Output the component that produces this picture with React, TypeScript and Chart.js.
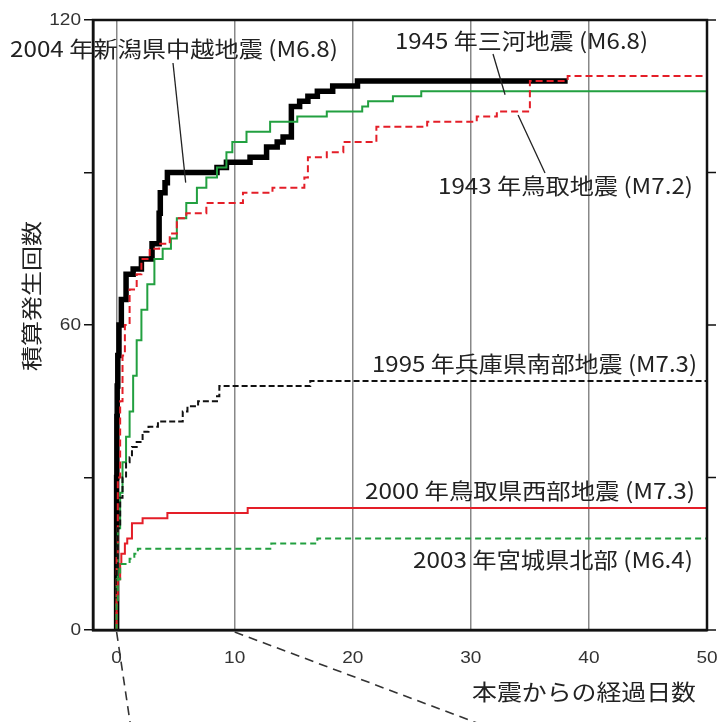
import React, { useEffect, useRef } from "react";
import { Chart, registerables } from "chart.js";

Chart.register(...registerables);

// ---- axis ticks ----
const xTicks = [0, 10, 20, 30, 40, 50];
const yTicks = [0, 30, 60, 90, 120];
const yTickLabels = ["0", "", "60", "", "120"];

// ---- series: days after main shock / cumulative count ----
// 2004 新潟県中越地震 (M6.8)
const niigataDays = [0, 0.02, 0.05, 0.1, 0.2, 0.4, 0.8, 1.4, 2.1, 3.0, 3.6, 3.7, 4.1, 4.3, 8.5, 9.3, 11.3, 12.7, 13.6, 14.1, 14.8, 15.5, 16.2, 17.0, 18.3, 20.4, 22.5, 38.2];
const niigataCounts = [0, 30, 42, 48, 54, 60, 65, 70, 71, 73, 76, 82, 86, 88, 90, 91, 92, 93, 95, 96, 97, 103, 104, 105, 106, 107, 108, 108];

// 1945 三河地震 (M6.8)
const mikawaDays = [0, 0.1, 0.3, 0.5, 0.8, 1.1, 1.4, 1.7, 2.1, 2.6, 3.2, 3.9, 4.6, 5.1, 5.9, 6.8, 7.6, 8.5, 9.3, 9.8, 11.0, 13.0, 15.3, 17.8, 20.8, 21.3, 23.4, 25.8, 35.4, 50];
const mikawaCounts = [0, 10, 20, 27, 33, 38, 43, 50, 57, 63, 68, 73, 75, 77, 81, 84, 87, 89, 91, 94, 96, 98, 100, 101, 102, 103, 104, 105, 106, 106];

// 1943 鳥取地震 (M7.2)
const tottoriDays = [0, 0.1, 0.3, 0.5, 0.7, 1.1, 1.7, 2.1, 2.8, 3.6, 4.5, 5.1, 5.9, 7.6, 10.7, 13.2, 15.9, 16.2, 17.8, 19.2, 22.0, 26.3, 30.5, 32.2, 35.0, 38.2, 44.2, 50];
const tottoriCounts = [0, 15, 30, 45, 54, 60, 67, 70, 73, 75, 76, 78, 81, 82, 84, 86, 87, 89, 93, 94, 96, 99, 100, 101, 102, 108, 109, 109];

// 1995 兵庫県南部地震 (M7.3)
const hyogoDays = [0, 0.1, 0.3, 0.5, 0.8, 1.1, 1.3, 1.7, 2.2, 2.7, 3.5, 4.5, 5.6, 6.0, 6.9, 8.5, 8.7, 16.4, 32.5, 50];
const hyogoCounts = [0, 12, 20, 26, 30, 33, 34, 36, 37, 39, 40, 41, 41, 43, 44, 45, 46, 48, 49, 49];

// 2000 鳥取県西部地震 (M7.3)
const westTottoriDays = [0, 0.1, 0.3, 0.4, 0.7, 0.9, 1.3, 2.2, 4.3, 11.1, 28.2, 50];
const westTottoriCounts = [0, 6, 10, 13, 15, 17, 18, 21, 22, 23, 24, 24];

// 2003 宮城県北部 (M6.4)
const miyagiDays = [0, 0.1, 0.3, 1.1, 1.5, 1.8, 13.1, 17.0, 31.8, 50];
const miyagiCounts = [0, 5, 10, 13, 14, 15, 16, 17, 18, 18];

// ---- text ----
const seriesNames = [
  "2004 年新潟県中越地震 (M6.8)",
  "1945 年三河地震 (M6.8)",
  "1943 年鳥取地震 (M7.2)",
  "1995 年兵庫県南部地震 (M7.3)",
  "2000 年鳥取県西部地震 (M7.3)",
  "2003 年宮城県北部 (M6.4)",
];
const yTitle = "積算発生回数";
const xTitle = "本震からの経過日数";

const toPoints = (days: number[], counts: number[]) => days.map((d, i) => ({ x: d, y: counts[i] }));

const CJK = '"Noto Sans CJK JP", "Noto Sans CJK SC", sans-serif';
const TICK_FONT = '17px "Liberation Sans", Arial, sans-serif';

function fitText(ctx: CanvasRenderingContext2D, text: string, left: number, cy: number, width: number, font: string) {
  ctx.save();
  ctx.font = font;
  const w = ctx.measureText(text).width;
  ctx.translate(left, cy);
  ctx.scale(width / w, 1);
  ctx.textAlign = "left";
  ctx.textBaseline = "middle";
  ctx.fillText(text, 0, 0);
  ctx.restore();
}

function scaledLabel(ctx: CanvasRenderingContext2D, text: string, x: number, y: number, align: CanvasTextAlign) {
  ctx.save();
  ctx.translate(x, y);
  ctx.scale(1.12, 1);
  ctx.font = TICK_FONT;
  ctx.textAlign = align;
  ctx.textBaseline = "middle";
  ctx.fillText(text, 0, 0);
  ctx.restore();
}

function line(ctx: CanvasRenderingContext2D, x1: number, y1: number, x2: number, y2: number) {
  ctx.beginPath();
  ctx.moveTo(x1, y1);
  ctx.lineTo(x2, y2);
  ctx.stroke();
}

const decorPlugin = {
  id: "decor",
  afterDraw(chart: any) {
    const { ctx, chartArea: ca, scales } = chart;
    const x = scales.x;
    const y = scales.y;
    ctx.save();
    // frame
    ctx.strokeStyle = "#111";
    ctx.lineWidth = 2.5;
    ctx.strokeRect(ca.left, ca.top, ca.right - ca.left, ca.bottom - ca.top);
    // right-side ticks
    ctx.lineWidth = 1.5;
    yTicks.forEach((v) => {
      const py = y.getPixelForValue(v);
      line(ctx, ca.right, py, ca.right + 9, py);
    });

    // tick labels (positioned from the library's scales)
    ctx.fillStyle = "#333";
    x.ticks.forEach((t: any) => {
      scaledLabel(ctx, String(t.value), x.getPixelForValue(t.value), ca.bottom + 28, "center");
    });
    y.ticks.forEach((t: any, i: number) => {
      const lbl = yTickLabels[i];
      if (lbl) scaledLabel(ctx, lbl, ca.left - 12, y.getPixelForValue(t.value), "right");
    });

    // zoom dashed lines below axis
    ctx.strokeStyle = "#333";
    ctx.lineWidth = 1.6;
    ctx.setLineDash([9, 6]);
    const p0 = x.getPixelForValue(0);
    const p10 = x.getPixelForValue(10);
    line(ctx, p0, ca.bottom + 2, p0 + 14, chart.height + 4);
    line(ctx, p10, ca.bottom + 2, p10 + 245, chart.height + 2);
    ctx.setLineDash([]);

    // leader lines
    ctx.strokeStyle = "#222";
    ctx.lineWidth = 1.3;
    line(ctx, 173, 63, x.getPixelForValue(5.85), y.getPixelForValue(88));
    line(ctx, 493, 54, x.getPixelForValue(32.9), y.getPixelForValue(105.3));
    line(ctx, x.getPixelForValue(34), y.getPixelForValue(101.3), 545, 173);

    // series labels
    ctx.fillStyle = "#222";
    const f = `22px ${CJK}`;
    fitText(ctx, seriesNames[0], 10, 49, 328, f);
    fitText(ctx, seriesNames[1], 395, 41, 253, f);
    fitText(ctx, seriesNames[2], 438, 186, 255, f);
    fitText(ctx, seriesNames[3], 372, 364, 325, f);
    fitText(ctx, seriesNames[4], 365, 491, 330, f);
    fitText(ctx, seriesNames[5], 413, 560, 280, f);

    // axis titles
    ctx.save();
    ctx.translate(31, 296);
    ctx.rotate(-Math.PI / 2);
    ctx.font = `21px ${CJK}`;
    const tw = ctx.measureText(yTitle).width;
    ctx.scale(150 / tw, 1);
    ctx.textAlign = "center";
    ctx.textBaseline = "middle";
    ctx.fillText(yTitle, 0, 0);
    ctx.restore();

    fitText(ctx, xTitle, 472, 692, 224, `22px ${CJK}`);
    ctx.restore();
  },
};

export default function App() {
  const ref = useRef<HTMLCanvasElement | null>(null);

  useEffect(() => {
    document.body.style.margin = "0";
    if (!ref.current) return;
    const green = "rgb(34,160,64)";
    const red = "rgb(228,30,40)";
    const chart = new Chart(ref.current, {
      type: "line",
      data: {
        datasets: [
          {
            label: seriesNames[5],
            data: toPoints(miyagiDays, miyagiCounts),
            borderColor: green,
            borderWidth: 2,
            borderDash: [6, 4],
          },
          {
            label: seriesNames[4],
            data: toPoints(westTottoriDays, westTottoriCounts),
            borderColor: red,
            borderWidth: 2,
          },
          {
            label: seriesNames[3],
            data: toPoints(hyogoDays, hyogoCounts),
            borderColor: "#111",
            borderWidth: 2,
            borderDash: [6, 3],
          },
          {
            label: seriesNames[2],
            data: toPoints(tottoriDays, tottoriCounts),
            borderColor: red,
            borderWidth: 2,
            borderDash: [7, 4],
          },
          {
            label: seriesNames[1],
            data: toPoints(mikawaDays, mikawaCounts),
            borderColor: green,
            borderWidth: 2,
          },
          {
            label: seriesNames[0],
            data: toPoints(niigataDays, niigataCounts),
            borderColor: "#000",
            borderWidth: 5.5,
          },
        ].map((d) => ({ ...d, stepped: "after" as const, pointRadius: 0, fill: false, tension: 0 })),
      },
      options: {
        responsive: true,
        maintainAspectRatio: false,
        animation: false,
        layout: { padding: { left: 0, right: 13, top: 20, bottom: 0 } },
        plugins: { legend: { display: false }, tooltip: { enabled: false } },
        scales: {
          x: {
            type: "linear",
            min: -2,
            max: 50,
            afterBuildTicks: (s: any) => {
              s.ticks = xTicks.map((v) => ({ value: v }));
            },
            afterFit: (s: any) => {
              s.height = 92;
              s.paddingLeft = 0;
              s.paddingRight = 0;
            },
            grid: {
              drawTicks: false,
              color: (c: any) => (c.tick && c.tick.value < 50 ? "#888" : "rgba(0,0,0,0)"),
              lineWidth: 1.5,
            },
            border: { display: true, color: "#111", width: 2.5 },
            ticks: { display: false },
          },
          y: {
            type: "linear",
            min: 0,
            max: 120,
            afterBuildTicks: (s: any) => {
              s.ticks = yTicks.map((v) => ({ value: v }));
            },
            afterFit: (s: any) => {
              s.width = 93;
              s.paddingTop = 0;
              s.paddingBottom = 0;
            },
            grid: {
              drawOnChartArea: false,
              drawTicks: true,
              tickLength: 9,
              color: "#111",
              lineWidth: 1.5,
            },
            border: { display: true, color: "#111", width: 2.5 },
            ticks: { display: false },
          },
        },
      },
      plugins: [decorPlugin],
    });
    return () => chart.destroy();
  }, []);

  return (
    <div style={{ position: "absolute", left: 0, top: 0, width: 720, height: 722, background: "#fff" }}>
      <canvas ref={ref} />
    </div>
  );
}
